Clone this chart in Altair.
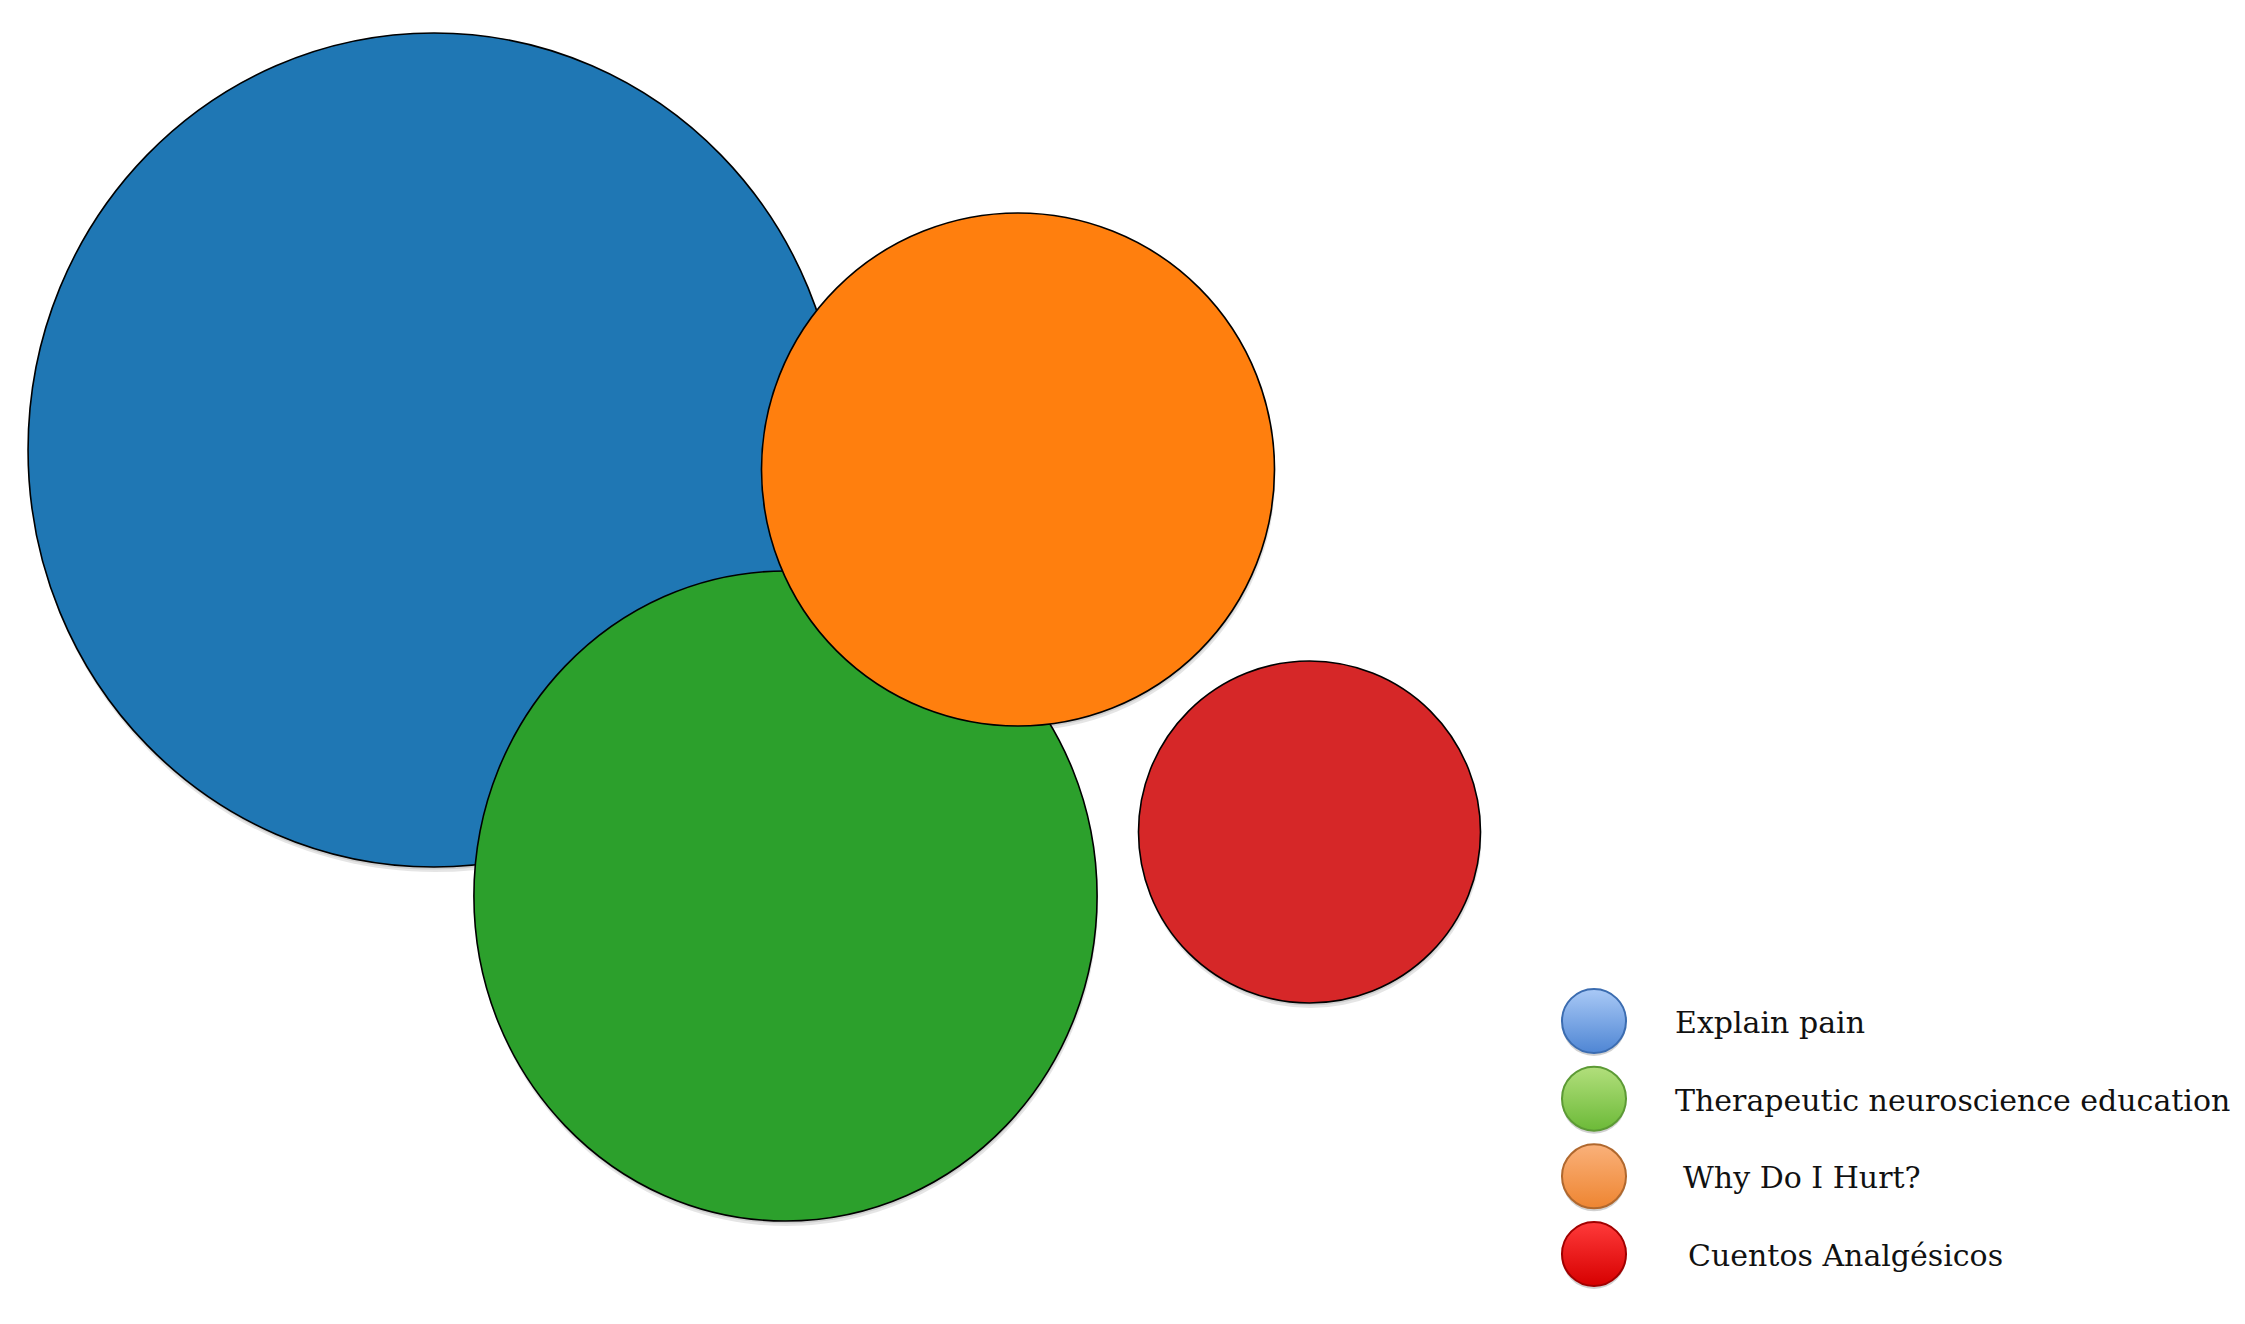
import altair as alt
import pandas as pd

# ---- data ----
names = ["Explain pain", "Therapeutic neuroscience education", "Why Do I Hurt?", "Cuentos Analgésicos"]
values = [23, 14, 9, 4]                 # relative bubble areas
center_x = [434, 785.5, 1018, 1309.5]   # bubble centres (picture units)
center_y = [450, 896, 469.5, 832]
legend_labels = ["Explain pain", "Therapeutic neuroscience education", "Why Do I Hurt?", "Cuentos Analgésicos"]

# ---- styles ----
bubble_colors = ["#1f77b4", "#2ca02c", "#ff7f0e", "#d62728"]
legend_top = ["#a9c9f6", "#b2df7c", "#fab17a", "#ff3a3a"]
legend_bottom = ["#4f86d4", "#6cba38", "#ee8531", "#d60000"]
legend_stroke = ["#3b6cb0", "#5c9a35", "#b0682e", "#a00000"]
label_x = [1667, 1667, 1675, 1680]


def ellipse_path(ax, ay):
    k = 0.5523
    return (f"M{ax},0 C{ax},{k*ay} {k*ax},{ay} 0,{ay} "
            f"C{-k*ax},{ay} {-ax},{k*ay} {-ax},0 "
            f"C{-ax},{-k*ay} {-k*ax},{-ay} 0,{-ay} "
            f"C{k*ax},{-ay} {ax},{-k*ay} {ax},0 Z")


shapes = [ellipse_path(0.990, 1.017), ellipse_path(0.974, 1.016), "circle", "circle"]

W, H = 2229, 1308
unit_area = 171 ** 2  # size (px^2) per unit of value

df = pd.DataFrame({"name": names, "value": values, "cx": center_x, "cy": center_y})
leg = pd.DataFrame({"name": names, "label": legend_labels})

xs = alt.Scale(domain=[8, 8 + W], nice=False, zero=False)
ys = alt.Scale(domain=[8, 8 + H], nice=False, zero=False, reverse=True)
size_scale = alt.Scale(type="linear", domain=[0, max(values)], range=[0, max(values) * unit_area])
shape_scale = alt.Scale(domain=names, range=shapes)

base = alt.Chart(df).encode(
    x=alt.X("cx:Q", scale=xs, axis=None),
    y=alt.Y("cy:Q", scale=ys, axis=None),
    size=alt.Size("value:Q", scale=size_scale, legend=None),
    shape=alt.Shape("name:N", scale=shape_scale, legend=None),
    order=alt.Order("value:Q", sort="descending"),
)

shadow1 = base.mark_point(filled=True, opacity=0.10, color="#000000", strokeWidth=0, yOffset=5, xOffset=1)
shadow2 = base.mark_point(filled=True, opacity=0.10, color="#000000", strokeWidth=0, yOffset=2.5, xOffset=0.5)

bubbles = base.mark_point(filled=True, opacity=1, stroke="#000000", strokeWidth=1.6).encode(
    fill=alt.Fill("name:N", scale=alt.Scale(domain=names, range=bubble_colors), legend=None)
)

leg_y = alt.Y("name:N", scale=alt.Scale(domain=names, range=[1013, 1246], padding=0), axis=None)

leg_shadow = alt.Chart(leg).mark_point(
    filled=True, shape="circle", size=4100, opacity=0.18, color="#000000", strokeWidth=0, yOffset=3
).encode(x=alt.value(1586), y=leg_y)

leg_layers = []
for i, nm in enumerate(names):
    grad = alt.LinearGradient(
        gradient="linear", x1=0, y1=0, x2=0, y2=1,
        stops=[alt.GradientStop(color=legend_top[i], offset=0),
               alt.GradientStop(color=legend_bottom[i], offset=1)],
    )
    item = alt.Chart(leg).transform_filter(alt.datum.name == nm)
    leg_layers.append(
        item.mark_point(
            shape="circle", size=4100, opacity=1, fillOpacity=1, strokeWidth=2,
            fill=grad, stroke=legend_stroke[i],
        ).encode(x=alt.value(1586), y=leg_y)
    )
    leg_layers.append(
        item.mark_text(
            align="left", baseline="middle", font="DejaVu Serif", fontSize=30, color="#111111", dy=3
        ).encode(x=alt.value(label_x[i]), y=leg_y, text="label:N")
    )

chart = (
    alt.layer(shadow1, shadow2, bubbles, leg_shadow, *leg_layers)
    .resolve_scale(y="independent", fill="independent", x="independent")
    .properties(width=W, height=H, padding=0, autosize=alt.AutoSizeParams(type="none"), background="white")
    .configure_view(strokeWidth=0)
)

chart.save("out.html", embed_options={"renderer": "svg", "actions": False})
